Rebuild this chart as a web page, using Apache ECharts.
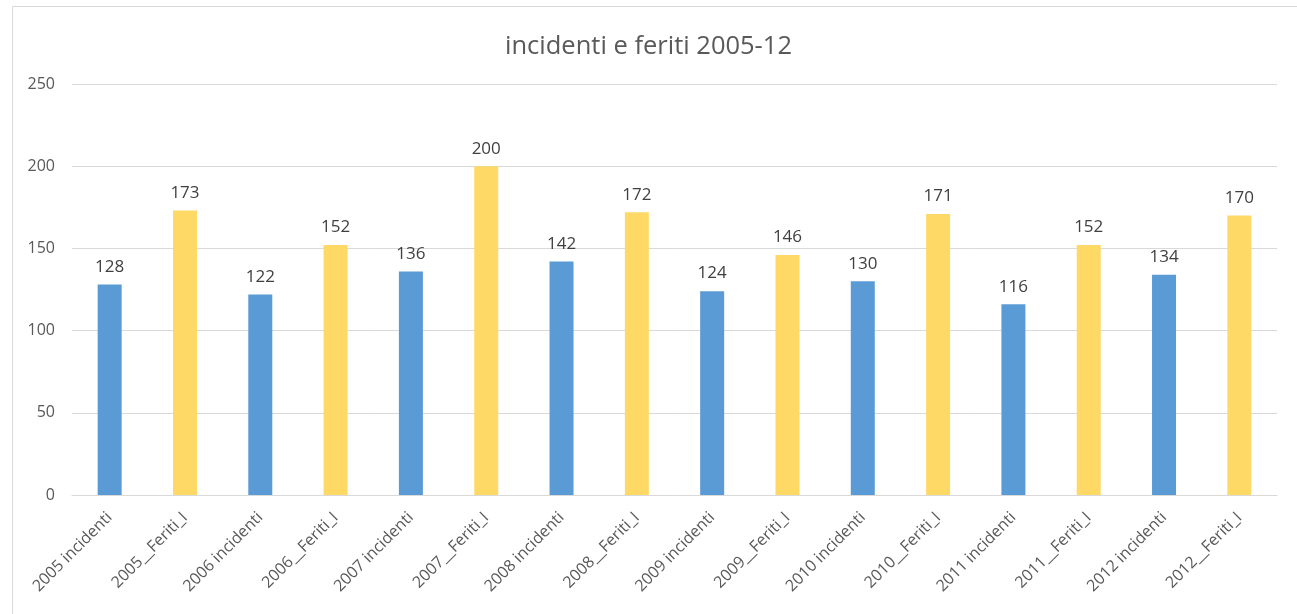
<!DOCTYPE html>
<html><head><meta charset="utf-8">
<script src="https://cdn.jsdelivr.net/npm/echarts@6/dist/echarts.min.js"></script>
<style>html,body{margin:0;padding:0;background:#fff}#c{width:1297px;height:614px}</style>
</head><body><div id="c"></div>
<script>
const categories = ['2005 incidenti','2005__Feriti_I','2006 incidenti','2006__Feriti_I','2007 incidenti','2007__Feriti_I','2008 incidenti','2008__Feriti_I','2009 incidenti','2009__Feriti_I','2010 incidenti','2010__Feriti_I','2011 incidenti','2011__Feriti_I','2012 incidenti','2012__Feriti_I'];
const values = [128,173,122,152,136,200,142,172,124,146,130,171,116,152,134,170];
const barColors = ['#5B9BD5','#FFD966'];
const yTicks = [0,50,100,150,200,250];
const font = 'Open Sans';
const chart = echarts.init(document.getElementById('c'));
chart.setOption({
  animation:false,
  title:{text:'incidenti e feriti 2005-12',left:'center',top:29,textStyle:{fontFamily:font,fontSize:25.5,fontWeight:'normal',color:'#595959'}},
  graphic:[{type:'rect',shape:{x:12.5,y:6.5,width:1400,height:800},style:{fill:'none',stroke:'#d9d9d9',lineWidth:1},z:-1}],
  grid:{left:72,right:20,top:84,bottom:119},
  xAxis:{type:'category',data:categories,
    axisLine:{lineStyle:{color:'#d9d9d9',width:1}},axisTick:{show:false},
    axisLabel:{rotate:45,interval:0,margin:20,color:'#595959',fontFamily:font,fontSize:16}},
  yAxis:{type:'value',min:yTicks[0],max:yTicks[yTicks.length-1],interval:50,
    axisLine:{show:false},axisTick:{show:false},
    splitLine:{lineStyle:{color:'#d9d9d9'}},
    axisLabel:{margin:17,color:'#595959',fontFamily:font,fontSize:16}},
  series:[{type:'bar',barWidth:24,
    data:values.map((v,i)=>({value:v,itemStyle:{color:barColors[i%2]}})),
    label:{show:true,position:'top',distance:9,color:'#404040',fontFamily:font,fontSize:17}}]
});
</script></body></html>
